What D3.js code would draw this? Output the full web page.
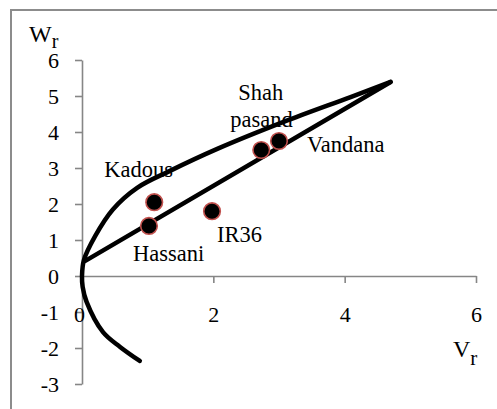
<!DOCTYPE html>
<html>
<head>
<meta charset="utf-8">
<script src="https://cdn.jsdelivr.net/npm/d3@7"></script>
<style>
  body { margin: 0; background: #fff; }
  text { font-family: "Liberation Serif", "Times New Roman", serif; fill: #000; }
</style>
</head>
<body>
<div id="chart"></div>
<script>
// varieties (Vr, Wr)
var varieties = ["Kadous", "Hassani", "IR36", "Shah pasand", "Vandana"];
var vrValues = [1.10, 1.02, 1.98, 2.73, 3.00];
var wrValues = [2.05, 1.39, 1.80, 3.50, 3.75];

// limiting parabola
var parabolaVr = [0.88, 0.58, 0.32, 0.07, 0.01, 0.00, 0.03, 0.20, 0.47, 0.84, 1.34, 2.06, 3.07, 4.09, 4.70];
var parabolaWr = [-2.36, -1.97, -1.56, -0.72, -0.30, 0.00, 0.45, 1.11, 1.85, 2.45, 2.92, 3.53, 4.28, 4.97, 5.39];

// regression line
var regressionVr = [0.05, 4.70];
var regressionWr = [0.42, 5.39];

var xTicks = [0, 2, 4, 6];
var yTicks = [-3, -2, -1, 0, 1, 2, 3, 4, 5, 6];

var W = 497, H = 409;
var axisColor = "#868686";

var svg = d3.select("#chart").append("svg").attr("width", W).attr("height", H);

// outer frame
svg.append("rect")
  .attr("x", 11).attr("y", 10)
  .attr("width", 520).attr("height", 440)
  .attr("fill", "none").attr("stroke", "#8c8c8c").attr("stroke-width", 2);

var x = d3.scaleLinear().domain([0, 6]).range([82, 476]);
var y = d3.scaleLinear().domain([-3, 6]).range([384, 60]);

var fmt = function(d) { return String(d); };

// axes
var gy = svg.append("g")
  .attr("transform", "translate(" + x(0) + ",0)")
  .call(d3.axisLeft(y).tickValues(yTicks).tickFormat(fmt)
    .tickSize(7).tickSizeOuter(0).tickPadding(16));

var gx = svg.append("g")
  .attr("transform", "translate(0," + y(0) + ")")
  .call(d3.axisBottom(x).tickValues(xTicks).tickFormat(fmt)
    .tickSize(7).tickSizeOuter(0).tickPadding(23));

[gx, gy].forEach(function(g) {
  g.attr("font-family", null).attr("font-size", null);
  g.selectAll("path, line").attr("stroke", axisColor).attr("stroke-width", 1.6);
  g.selectAll("text")
    .style("font-size", "22px")
    .attr("fill", "#000");
});
gx.selectAll(".tick text").attr("dx", function(d) { return d === 0 ? -3 : 0; });

// curves
var line = d3.line()
  .x(function(d) { return x(d[0]); })
  .y(function(d) { return y(d[1]); });

var parabola = parabolaVr.map(function(v, i) { return [v, parabolaWr[i]]; });
var regression = regressionVr.map(function(v, i) { return [v, regressionWr[i]]; });

svg.append("path")
  .attr("d", line.curve(d3.curveCatmullRom.alpha(0.5))(parabola))
  .attr("fill", "none").attr("stroke", "#000")
  .attr("stroke-width", 4.5).attr("stroke-linecap", "round").attr("stroke-linejoin", "round");

svg.append("path")
  .attr("d", line.curve(d3.curveLinear)(regression))
  .attr("fill", "none").attr("stroke", "#000")
  .attr("stroke-width", 4.5).attr("stroke-linecap", "round");

// points
svg.selectAll("circle.pt")
  .data(varieties)
  .enter().append("circle")
  .attr("class", "pt")
  .attr("cx", function(d, i) { return x(vrValues[i]); })
  .attr("cy", function(d, i) { return y(wrValues[i]); })
  .attr("r", 8.3)
  .attr("fill", "#000")
  .attr("stroke", "#c0504d")
  .attr("stroke-width", 1.6);

// labels (offsets in px from point)
var labelOffsets = {
  "Kadous": [-50, -25],
  "Hassani": [-16, 35],
  "IR36": [5, 31],
  "Shah pasand": [-23, -50],
  "Vandana": [28, 11]
};
svg.selectAll("text.lbl")
  .data(varieties)
  .enter().append("text")
  .attr("class", "lbl")
  .attr("x", function(d, i) { return x(vrValues[i]) + labelOffsets[d][0]; })
  .attr("y", function(d, i) { return y(wrValues[i]) + labelOffsets[d][1]; })
  .style("font-size", "22.5px")
  .each(function(d) {
    var words = d.split(" ");
    var t = d3.select(this);
    var x0 = t.attr("x");
    words.forEach(function(w, k) {
      t.append("tspan")
        .attr("x", k === 0 ? x0 : +x0 - 8)
        .attr("dy", k === 0 ? 0 : 27)
        .text(w);
    });
  });

// axis titles
var wt = svg.append("text").attr("x", 29).attr("y", 42).style("font-size", "24px");
wt.append("tspan").text("W");
wt.append("tspan").attr("dy", 6).attr("font-size", "20px").text("r");

var vt = svg.append("text").attr("x", 453).attr("y", 357).style("font-size", "24px");
vt.append("tspan").text("V");
vt.append("tspan").attr("dy", 8).attr("font-size", "21px").text("r");
</script>
</body>
</html>
